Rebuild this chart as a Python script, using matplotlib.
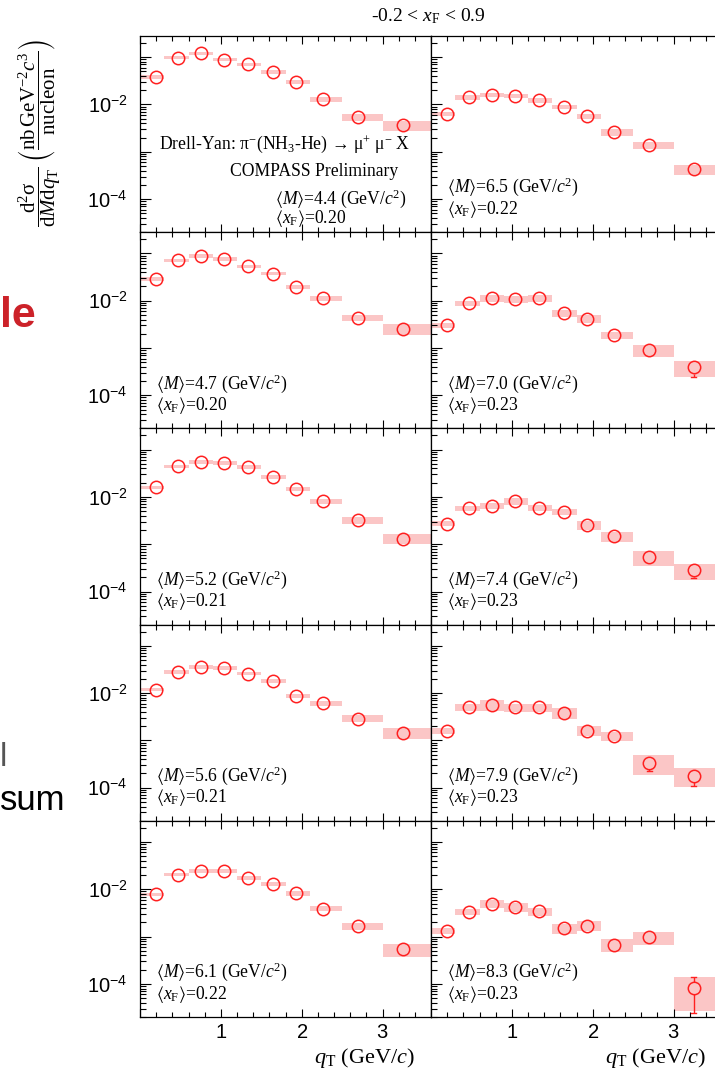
import numpy as np
import matplotlib
matplotlib.use("Agg")
import matplotlib.pyplot as plt
from matplotlib.ticker import LogLocator, FuncFormatter, MultipleLocator, NullFormatter

plt.rcParams['font.family'] = ['Liberation Serif', 'DejaVu Serif']
plt.rcParams['mathtext.fontset'] = 'custom'
plt.rcParams['mathtext.rm'] = 'Liberation Serif'
plt.rcParams['mathtext.it'] = 'Liberation Serif:italic'
plt.rcParams['mathtext.bf'] = 'Liberation Serif:bold'
plt.rcParams['mathtext.sf'] = 'Liberation Sans'
plt.rcParams['mathtext.fallback'] = 'stix'

# ---------------- data ----------------
qt_edges = [0.0, 0.3, 0.6, 0.9, 1.2, 1.5, 1.8, 2.1, 2.5, 3.0, 4.0]
qt_mean = [0.20, 0.47, 0.75, 1.04, 1.33, 1.64, 1.93, 2.26, 2.70, 3.25]

mass_mean = [4.4, 4.7, 5.2, 5.6, 6.1, 6.5, 7.0, 7.4, 7.9, 8.3]
xf_mean = [0.20, 0.20, 0.21, 0.21, 0.22, 0.22, 0.23, 0.23, 0.23, 0.23]

xsec_M44 = [0.038, 0.098, 0.12, 0.089, 0.070, 0.048, 0.030, 0.0131, 0.0055, 0.0036]
xsec_M47 = [0.0289, 0.071, 0.0877, 0.0757, 0.0537, 0.0375, 0.0195, 0.0112, 0.0044, 0.0025]
xsec_M52 = [0.0158, 0.044, 0.0547, 0.052, 0.0428, 0.0262, 0.0150, 0.0080, 0.0032, 0.0013]
xsec_M56 = [0.0118, 0.028, 0.0357, 0.034, 0.0258, 0.018, 0.0088, 0.0062, 0.0029, 0.00143]
xsec_M61 = [0.0078, 0.0205, 0.0245, 0.0245, 0.0171, 0.0128, 0.0082, 0.0039, 0.00167, 0.00054]
xsec_M65 = [0.0062, 0.0141, 0.016, 0.015, 0.0122, 0.0089, 0.0056, 0.0026, 0.00136, 0.00043]
xsec_M70 = [0.0030, 0.0089, 0.0112, 0.0107, 0.0112, 0.0055, 0.0041, 0.00186, 0.00089, 0.00039]
xsec_M74 = [0.0027, 0.0058, 0.0064, 0.0081, 0.0059, 0.0048, 0.0025, 0.00146, 0.00053, 0.00028]
xsec_M79 = [0.0016, 0.0050, 0.0057, 0.0050, 0.0050, 0.0038, 0.0016, 0.00126, 0.00034, 0.00018]
xsec_M83 = [0.00131, 0.0033, 0.0050, 0.0042, 0.0034, 0.00151, 0.0017, 0.00068, 0.00096, 8.2e-5]

# relative statistical uncertainties
stat_M44 = [0.03, 0.02, 0.02, 0.02, 0.02, 0.03, 0.03, 0.04, 0.06, 0.08]
stat_M47 = [0.03, 0.02, 0.02, 0.02, 0.02, 0.03, 0.03, 0.04, 0.06, 0.09]
stat_M52 = [0.03, 0.02, 0.02, 0.02, 0.02, 0.03, 0.04, 0.05, 0.07, 0.12]
stat_M56 = [0.03, 0.02, 0.02, 0.02, 0.03, 0.03, 0.04, 0.05, 0.08, 0.14]
stat_M61 = [0.04, 0.03, 0.03, 0.03, 0.03, 0.04, 0.05, 0.06, 0.10, 0.27]
stat_M65 = [0.04, 0.03, 0.03, 0.03, 0.03, 0.04, 0.05, 0.07, 0.10, 0.18]
stat_M70 = [0.05, 0.04, 0.04, 0.04, 0.04, 0.05, 0.06, 0.09, 0.14, 0.36]
stat_M74 = [0.06, 0.05, 0.05, 0.05, 0.05, 0.06, 0.08, 0.10, 0.18, 0.30]
stat_M79 = [0.07, 0.06, 0.06, 0.06, 0.06, 0.07, 0.10, 0.12, 0.34, 0.40]
stat_M83 = [0.08, 0.07, 0.07, 0.07, 0.08, 0.10, 0.12, 0.18, 0.20, 0.70]

# relative systematic uncertainties (bands)
syst_M44 = [0.08, 0.08, 0.08, 0.08, 0.08, 0.09, 0.10, 0.12, 0.17, 0.23]
syst_M47 = [0.08, 0.08, 0.08, 0.08, 0.08, 0.09, 0.10, 0.11, 0.14, 0.26]
syst_M52 = [0.08, 0.08, 0.08, 0.08, 0.08, 0.09, 0.10, 0.12, 0.16, 0.24]
syst_M56 = [0.08, 0.08, 0.08, 0.08, 0.08, 0.09, 0.10, 0.12, 0.17, 0.26]
syst_M61 = [0.08, 0.08, 0.08, 0.08, 0.09, 0.10, 0.10, 0.12, 0.17, 0.30]
syst_M65 = [0.10, 0.10, 0.10, 0.10, 0.10, 0.11, 0.12, 0.15, 0.16, 0.23]
syst_M70 = [0.12, 0.12, 0.18, 0.18, 0.18, 0.17, 0.19, 0.18, 0.29, 0.38]
syst_M74 = [0.12, 0.12, 0.15, 0.15, 0.15, 0.15, 0.22, 0.22, 0.35, 0.38]
syst_M79 = [0.15, 0.15, 0.28, 0.20, 0.20, 0.25, 0.24, 0.22, 0.45, 0.42]
syst_M83 = [0.15, 0.15, 0.20, 0.20, 0.20, 0.24, 0.24, 0.29, 0.30, 0.68]

panels = [
    (xsec_M44, stat_M44, syst_M44), (xsec_M65, stat_M65, syst_M65),
    (xsec_M47, stat_M47, syst_M47), (xsec_M70, stat_M70, syst_M70),
    (xsec_M52, stat_M52, syst_M52), (xsec_M74, stat_M74, syst_M74),
    (xsec_M56, stat_M56, syst_M56), (xsec_M79, stat_M79, syst_M79),
    (xsec_M61, stat_M61, syst_M61), (xsec_M83, stat_M83, syst_M83),
]
panel_index = [0, 5, 1, 6, 2, 7, 3, 8, 4, 9]

# ---------------- figure ----------------
W, H = 715, 1082
fig = plt.figure(figsize=(W / 100, H / 100), dpi=100)

col_x = [140, 431]
col_w = 291
row_top = 36
row_h = 196.2

band_color = '#fbc6c6'
red = '#ff2020'
marker_r_px = 6.2   # radius of the open marker in pixels
ms_pt = 2 * marker_r_px * 72 / 100

edges = np.array(qt_edges)
widths = np.diff(edges)


def ylab(v, pos):
    if np.isclose(v, 1e-2):
        return r'$\mathsf{10^{-2}}$'
    if np.isclose(v, 1e-4):
        return r'$\mathsf{10^{-4}}$'
    return ''


def xlab(v, pos):
    if abs(v - round(v)) < 1e-6 and round(v) > 0:
        return r'$\mathsf{%d}$' % round(v)
    return ''


def draw_errors(ax, xs, ys, errs):
    """ROOT-style error bars: drawn only outside the open marker."""
    inv = ax.transData.inverted()
    cap = 2.5
    for x, y, e in zip(xs, ys, errs):
        px, py = ax.transData.transform((x, y))
        for end in (y + e, max(y - e, 1e-9)):
            _, pe = ax.transData.transform((x, end))
            if abs(pe - py) > marker_r_px + 1:
                sgn = np.sign(pe - py)
                start = inv.transform((px, py + sgn * marker_r_px))[1]
                ax.plot([x, x], [start, end], color=red, lw=1.0, zorder=2,
                        solid_capstyle='butt')
                xl = inv.transform((px - cap, pe))[0]
                xr = inv.transform((px + cap, pe))[0]
                ax.plot([xl, xr], [end, end], color=red, lw=1.0, zorder=2)


axes = []
for k in range(10):
    r, c = divmod(k, 2)
    y0 = row_top + r * row_h
    ax = fig.add_axes([col_x[c] / W, 1 - (y0 + row_h) / H, col_w / W, row_h / H])
    axes.append(ax)
    vals, stat, syst = panels[k]
    vals = np.array(vals)
    stat = np.array(stat)
    syst = np.array(syst)
    ax.bar(edges[:-1], 2 * syst * vals, bottom=vals * (1 - syst), width=widths,
           align='edge', color=band_color, linewidth=0, zorder=1)
    ax.plot(qt_mean, vals, 'o', mfc='none', mec=red, ms=ms_pt, mew=1.1, zorder=3)
    ax.set_yscale('log')
    ax.set_xlim(0, 3.6)
    ax.set_ylim(2e-5, 0.28)
    ax.yaxis.set_major_locator(LogLocator(base=10, numticks=12))
    ax.yaxis.set_minor_locator(LogLocator(base=10, subs=np.arange(2, 10), numticks=12))
    ax.yaxis.set_minor_formatter(NullFormatter())
    ax.xaxis.set_major_locator(MultipleLocator(1))
    ax.xaxis.set_minor_locator(MultipleLocator(0.2))
    ax.tick_params(which='both', direction='in', top=True, right=False)
    ax.tick_params(axis='y', which='major', length=8, width=0.8)
    ax.tick_params(axis='y', which='minor', length=4, width=0.8)
    ax.tick_params(axis='x', which='major', length=6, width=0.8)
    ax.tick_params(axis='x', which='minor', length=3.5, width=0.8)
    for s in ax.spines.values():
        s.set_linewidth(0.9)
    if c == 0:
        ax.yaxis.set_major_formatter(FuncFormatter(ylab))
        ax.tick_params(axis='y', labelsize=14.5, pad=9)
    else:
        ax.set_yticklabels([])
    if r == 4:
        ax.xaxis.set_major_formatter(FuncFormatter(xlab))
        ax.tick_params(axis='x', labelsize=14.5, pad=5)
        ax.text(0.945, -0.21, r'$q_\mathrm{T}$ (GeV/$c$)', transform=ax.transAxes,
                ha='right', va='center', fontsize=16)
    else:
        ax.set_xticklabels([])

    m = mass_mean[panel_index[k]]
    xf = xf_mean[panel_index[k]]
    if k == 0:
        ax.text(0.497, 0.45, r'Drell-Yan: π$^{-}$(NH$_3$-He) → μ$^{+}$ μ$^{-}$ X',
                transform=ax.transAxes, ha='center', va='center', fontsize=12.7)
        ax.text(0.60, 0.31, 'COMPASS Preliminary', transform=ax.transAxes,
                ha='center', va='center', fontsize=12.7)
        tx, ty1, ty2 = 0.465, 0.173, 0.07
    else:
        tx, ty1, ty2 = 0.055, 0.23, 0.117
    ax.text(tx, ty1, r'$\langle M\rangle$=%.1f (GeV/$c^2$)' % m, transform=ax.transAxes,
            ha='left', va='center', fontsize=12.7)
    ax.text(tx, ty2, r'$\langle x_\mathrm{F}\rangle$=%.2f' % xf, transform=ax.transAxes,
            ha='left', va='center', fontsize=12.7)

# error bars drawn after the limits are fixed
for k in range(10):
    vals, stat, syst = panels[k]
    draw_errors(axes[k], qt_mean, vals, np.array(stat) * np.array(vals))

# title above the grid
fig.text(428 / W, 1 - 16 / H, r'-0.2 < $x_\mathrm{F}$ < 0.9', ha='center', va='center', fontsize=14)

# y-axis label
fig.text(40 / W, 1 - 133 / H,
         r'$\dfrac{\mathrm{d}^2\mathrm{σ}}{\mathrm{d}M\mathrm{d}q_\mathrm{T}}\ \left(\dfrac{\mathrm{nb\,GeV^{-2}}c^3}{\mathrm{nucleon}}\right)$',
         rotation=90, ha='center', va='center', fontsize=15)

# fragments of the surrounding slide
fig.text(0, 1 - 316 / H, 'le', color='#cc2229', fontsize=31, fontweight='bold',
         family='Liberation Sans', ha='left', va='center')
fig.text(0, 1 - 758 / H, 'l', color='#555555', fontsize=24,
         family='Liberation Sans', ha='left', va='center')
fig.text(0, 1 - 800 / H, 'sum', color='black', fontsize=25,
         family='Liberation Sans', ha='left', va='center')

fig.savefig('out.png', dpi=100)
